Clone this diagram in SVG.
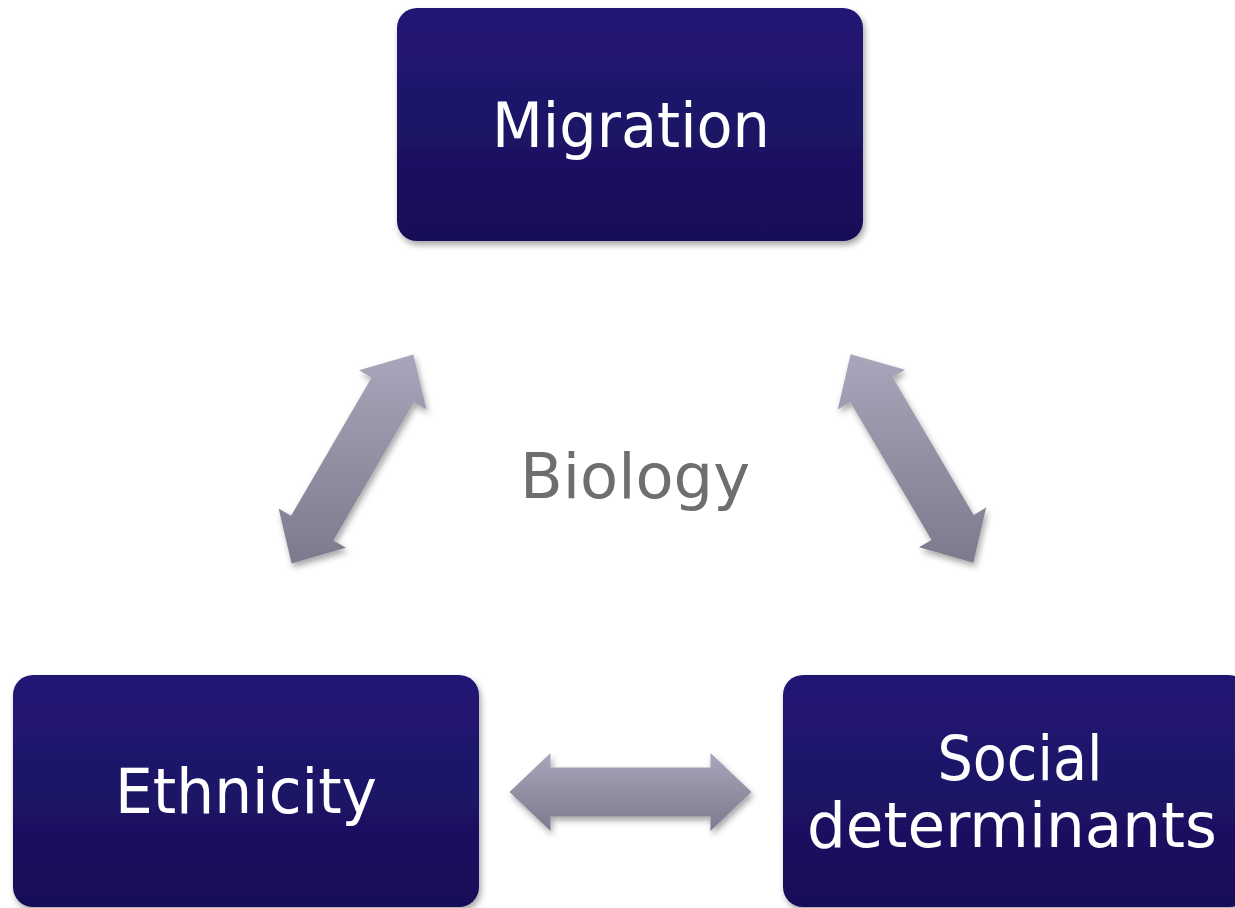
<svg xmlns="http://www.w3.org/2000/svg" width="1235" height="908" viewBox="0 0 1235 908">
  <defs>
    <linearGradient id="boxFill" x1="0" y1="0" x2="0" y2="1">
      <stop offset="0" stop-color="#221775"/>
      <stop offset="1" stop-color="#190e58"/>
    </linearGradient>
    <linearGradient id="arrowFill" x1="0" y1="0" x2="0" y2="1">
      <stop offset="0" stop-color="#a7a6ba"/>
      <stop offset="1" stop-color="#7c7b8d"/>
    </linearGradient>
    <filter id="shadow" x="-10%" y="-10%" width="125%" height="130%">
      <feDropShadow dx="2" dy="4" stdDeviation="3" flood-color="#000" flood-opacity="0.35"/>
    </filter>
  </defs>
  <style>
    .box { fill: url(#boxFill); filter: url(#shadow); }
    .arrow { fill: url(#arrowFill); filter: url(#shadow); }
    .label { font-family: "DejaVu Sans", Verdana, sans-serif; font-size: 63px; fill: #ffffff; text-anchor: middle; }
    .center { font-family: "DejaVu Sans", Verdana, sans-serif; font-size: 63px; fill: #6e6e6e; text-anchor: middle; }
  </style>

  <rect width="1235" height="908" fill="#ffffff"/>

  <!-- double-headed connectors -->
  <g id="connectors">
    <polygon class="arrow" points="291.6,563.6 278.6,508.5 291.1,515.8 371.6,377.5 359.0,370.2 413.4,354.4 426.5,409.5 413.9,402.2 333.4,540.5 346.0,547.8"/>
    <polygon class="arrow" points="850.6,354.2 905.0,369.8 892.5,377.1 973.7,515.0 986.2,507.6 973.4,562.8 919.0,547.2 931.5,539.9 850.3,402.0 837.8,409.4"/>
    <polygon class="arrow" points="509.5,792 550.5,753 550.5,767.5 710.5,767.5 710.5,753 751.5,792 710.5,831 710.5,816.5 550.5,816.5 550.5,831"/>
  </g>

  <g id="migration">
    <rect class="box" x="397" y="8" width="466" height="233" rx="20" ry="20"/>
    <text class="label" x="631" y="147" textLength="278" lengthAdjust="spacingAndGlyphs">Migration</text>
  </g>

  <g id="ethnicity">
    <rect class="box" x="13" y="675" width="466" height="232" rx="20" ry="20"/>
    <text class="label" x="246" y="813" textLength="262" lengthAdjust="spacingAndGlyphs">Ethnicity</text>
  </g>

  <g id="social-determinants">
    <rect class="box" x="783" y="675" width="466" height="232" rx="20" ry="20"/>
    <text class="label" x="1020" y="780" textLength="165" lengthAdjust="spacingAndGlyphs">Social</text>
    <text class="label" x="1012" y="847" textLength="410" lengthAdjust="spacingAndGlyphs">determinants</text>
  </g>

  <g id="biology">
    <text class="center" x="635" y="498" textLength="230" lengthAdjust="spacingAndGlyphs">Biology</text>
  </g>
</svg>
